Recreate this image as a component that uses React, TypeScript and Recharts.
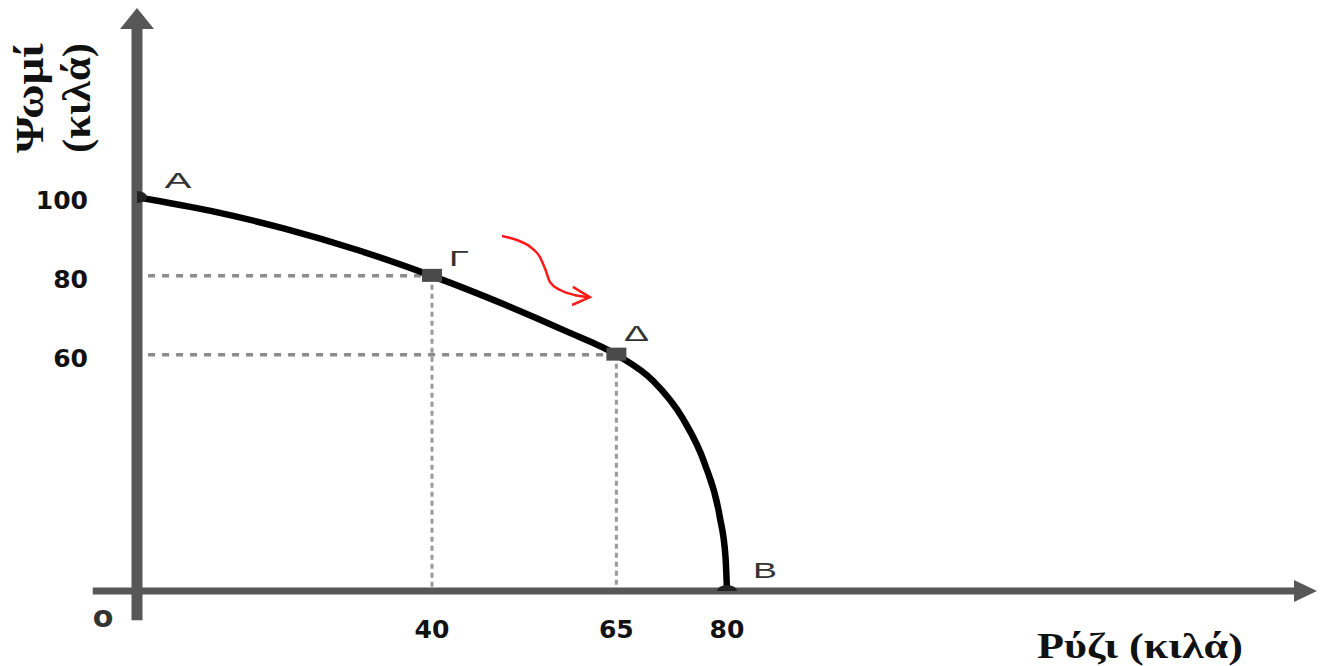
import React from 'react';
import { ComposedChart, Line, XAxis, YAxis, ReferenceLine, ReferenceDot, Scatter } from 'recharts';

// ---- data ----
const xTicks = [0, 40, 65, 80];
const yTicks = [60, 80, 100];
const originLabel = 'o';

const frontierX = [0, 10, 20, 30, 40, 50, 58, 65, 70, 74, 77, 79, 79.8, 80];
const frontierY = [100, 96.5, 92, 86.5, 80, 72.6, 66.1, 60, 53.3, 43.8, 32.2, 19, 8.6, 0];

const pointNames = ['Α', 'Γ', 'Δ', 'Β'];
const pointX = [0, 40, 65, 80];
const pointY = [100, 80, 60, 0];

const guideNames = ['Γ', 'Δ'];

const arrowX = [49.5, 51.5, 53.3, 54.6, 55.4, 56.0, 57.4, 59.4, 61.4];
const arrowY = [90.1, 89.1, 87.4, 84.9, 81.5, 78.4, 76.4, 75.1, 74.6];
const arrowHeadX = [59.1, 61.4, 59.0];
const arrowHeadY = [77.2, 74.6, 72.6];

const xTitle = 'Ρύζι (κιλά)';
const yTitleLines = ['Ψωμί', '(κιλά)'];

const X_DOMAIN: [number, number] = [0, 160];
const Y_DOMAIN: [number, number] = [0, 148];

// ---- derived tables ----
const frontier = frontierX.map((x, i) => ({ x, y: frontierY[i] }));
const points = pointNames.map((name, i) => ({ name, x: pointX[i], y: pointY[i] }));
const guides = points.filter((p) => guideNames.includes(p.name));
const arrowPath = arrowX.map((x, i) => ({ x, y: arrowY[i] }));
const arrowHead = arrowHeadX.map((x, i) => ({ x, y: arrowHeadY[i] }));

const AXIS_COLOR = '#575757';
const TICK_FONT = '"DejaVu Sans", sans-serif';
const TITLE_FONT = '"Liberation Serif", "DejaVu Serif", serif';

const labelStyle: Record<string, { dx: number; dy: number; w: number }> = {
  'Α': { dx: 41, dy: -9, w: 27 },
  'Γ': { dx: 27, dy: -10, w: 20 },
  'Δ': { dx: 20, dy: -14, w: 25 },
  'Β': { dx: 38, dy: -13, w: 24 },
};

const XTick = (props: any) => {
  const { x, y, payload } = props;
  const v = payload.value;
  if (v === 0) {
    return (
      <text x={x - 34} y={y + 36} textAnchor="middle" fontFamily={TICK_FONT} fontWeight="bold" fontSize={30} fill="#333">
        {originLabel}
      </text>
    );
  }
  return (
    <text x={x} y={y + 47} textAnchor="middle" fontFamily={TICK_FONT} fontWeight="bold" fontSize={25} fill="#111">
      {v}
    </text>
  );
};

const YTick = (props: any) => {
  const { x, y, payload } = props;
  return (
    <text x={x - 49} y={y + 12} textAnchor="end" fontFamily={TICK_FONT} fontWeight="bold" fontSize={25} fill="#111">
      {payload.value}
    </text>
  );
};

const PointShape = (props: any) => {
  const { cx, cy, payload } = props;
  const s = labelStyle[payload.name];
  const isEnd = payload.name === 'Α' || payload.name === 'Β';
  return (
    <g>
      {isEnd ? (
        <ellipse cx={cx} cy={cy} rx={10} ry={6} fill="#222" />
      ) : (
        <rect x={cx - 10} y={cy - 7} width={20} height={13} fill="#4a4a4a" />
      )}
      <text
        x={cx + s.dx}
        y={cy + s.dy}
        textAnchor="middle"
        fontFamily='"Liberation Sans", Arial, sans-serif'
        fontSize={22}
        fill="#333"
        textLength={s.w}
        lengthAdjust="spacingAndGlyphs"
      >
        {payload.name}
      </text>
    </g>
  );
};

const UpArrow = (props: any) => {
  const { cx, cy } = props;
  return <polygon points={`${cx},${cy} ${cx - 17},${cy + 21} ${cx + 17},${cy + 21}`} fill={AXIS_COLOR} />;
};

const RightArrow = (props: any) => {
  const { cx, cy } = props;
  return <polygon points={`${cx},${cy} ${cx - 23},${cy - 11} ${cx - 23},${cy + 11}`} fill={AXIS_COLOR} />;
};

const XTitle = (props: any) => {
  const vb = props.viewBox;
  return (
    <text
      x={vb.x + 1003}
      y={vb.y + 67}
      textAnchor="middle"
      fontFamily={TITLE_FONT}
      fontWeight="bold"
      fontSize={35}
      fill="#111"
      textLength={206}
      lengthAdjust="spacingAndGlyphs"
    >
      {xTitle}
    </text>
  );
};

const YTitle = (props: any) => {
  const vb = props.viewBox;
  const cy = vb.y + 90;
  const baselines = [vb.x - 34, vb.x + 13];
  return (
    <g>
      {yTitleLines.map((t, i) => (
        <text
          key={t}
          x={baselines[i]}
          y={cy}
          transform={`rotate(-90, ${baselines[i]}, ${cy})`}
          textAnchor="middle"
          fontFamily={TITLE_FONT}
          fontWeight="bold"
          fontSize={40}
          fill="#111"
          textLength={110}
          lengthAdjust="spacingAndGlyphs"
        >
          {t}
        </text>
      ))}
    </g>
  );
};

export default function App() {
  return (
    <div style={{ position: 'absolute', left: 0, top: 0, width: 1323, height: 666, background: '#fff' }}>
      <ComposedChart width={1323} height={666} margin={{ top: 8, right: 6, bottom: 25, left: 77 }}>
        <XAxis
          type="number"
          dataKey="x"
          domain={X_DOMAIN}
          ticks={xTicks}
          interval={0}
          axisLine={false}
          tickLine={false}
          tickSize={0}
          tickMargin={0}
          height={50}
          tick={<XTick />}
          label={{ content: <XTitle /> }}
          allowDataOverflow
        />
        <YAxis
          type="number"
          dataKey="y"
          domain={Y_DOMAIN}
          ticks={yTicks}
          interval={0}
          axisLine={false}
          tickLine={false}
          tickSize={0}
          tickMargin={0}
          width={60}
          tick={<YTick />}
          label={{ content: <YTitle /> }}
          allowDataOverflow
        />

        {/* guide lines */}
        {guides.map((g) => (
          <ReferenceLine
            key={`h-${g.name}`}
            segment={[{ x: 1.5, y: g.y }, { x: g.x, y: g.y }]}
            stroke="#8c8c8c"
            strokeWidth={3.5}
            strokeDasharray="7 7"
            ifOverflow="visible"
          />
        ))}
        {guides.map((g) => (
          <ReferenceLine
            key={`v-${g.name}`}
            segment={[{ x: g.x, y: g.y }, { x: g.x, y: 0 }]}
            stroke="#999"
            strokeWidth={3}
            strokeDasharray="5 4"
            ifOverflow="visible"
          />
        ))}

        {/* axes */}
        <ReferenceLine
          segment={[{ x: -6, y: 0 }, { x: 158, y: 0 }]}
          stroke={AXIS_COLOR}
          strokeWidth={7}
          ifOverflow="visible"
        />
        <ReferenceLine
          segment={[{ x: 0, y: -7.4 }, { x: 0, y: 144 }]}
          stroke={AXIS_COLOR}
          strokeWidth={11}
          ifOverflow="visible"
        />
        <ReferenceDot x={0} y={Y_DOMAIN[1]} r={1} shape={UpArrow} ifOverflow="visible" />
        <ReferenceDot x={X_DOMAIN[1]} y={0} r={1} shape={RightArrow} ifOverflow="visible" />

        <Line
          data={frontier}
          dataKey="y"
          type="monotone"
          stroke="#000"
          strokeWidth={6.5}
          dot={false}
          activeDot={false}
          isAnimationActive={false}
        />
        <Line
          data={arrowPath}
          dataKey="y"
          type="monotone"
          stroke="#ff1a1a"
          strokeWidth={2.5}
          dot={false}
          activeDot={false}
          isAnimationActive={false}
        />
        <Line
          data={arrowHead}
          dataKey="y"
          type="linear"
          stroke="#ff1a1a"
          strokeWidth={2.5}
          dot={false}
          activeDot={false}
          isAnimationActive={false}
        />
        <Scatter data={points} dataKey="y" shape={PointShape} isAnimationActive={false} />
      </ComposedChart>
    </div>
  );
}
